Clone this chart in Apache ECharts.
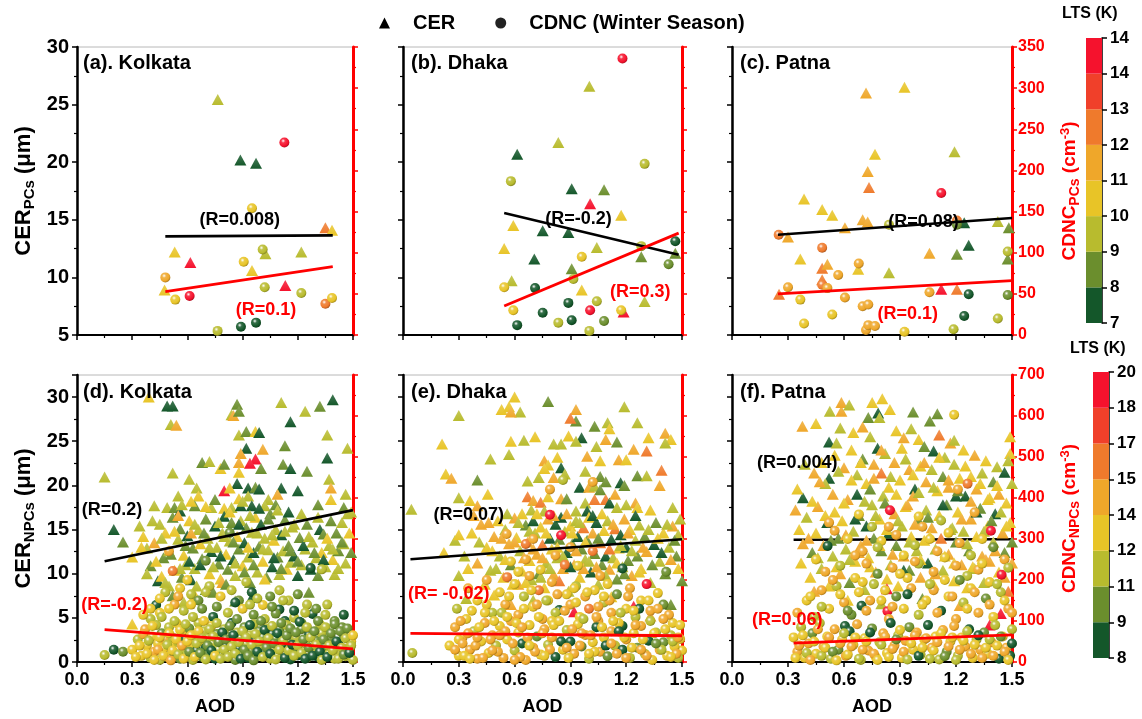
<!DOCTYPE html>
<html><head><meta charset="utf-8">
<script src="https://cdn.jsdelivr.net/npm/echarts@6/dist/echarts.min.js"></script>
<style>html,body{margin:0;padding:0;background:#fff}#c{width:1142px;height:719px}</style>
</head><body><div id="c"></div>
<script>
// LTS colour bins (dark green -> red)
const PAL = ['#14572a','#6b8e2d','#b8bb2e','#e8c427','#efa72a','#ef7a2c','#f0402a','#f5122d'];
const LTS_TOP_LABELS = ['7','8','9','10','11','12','13','14','14'];
const LTS_BOT_LABELS = ['8','9','11','12','14','15','17','18','20'];
const PANEL_TITLES = ['(a). Kolkata','(b). Dhaka','(c). Patna','(d). Kolkata','(e). Dhaka','(f). Patna'];

// [AOD, CER (um), LTS bin]
const aTri = [[0.765,25.45,2],[0.888,20.2,0],[0.973,19.9,0],[0.531,12.2,3],[0.616,11.3,7],[0.951,10.6,3],[1.024,12.05,2],[1.219,12.2,2],[1.35,14.3,5],[1.386,14.1,3],[1.132,9.3,7],[0.476,8.9,3]];
// [AOD, CDNC (cm-3), LTS bin]
const aCir = [[1.127,234,7],[0.951,154,3],[1.009,104,2],[0.906,89,3],[1.02,58,2],[1.219,51,2],[0.48,70,4],[0.534,43,3],[0.612,47.5,7],[1.35,38,5],[1.386,45,3],[0.764,5,2],[0.891,10,0],[0.973,15,0]];
const bTri = [[1.002,26.6,2],[0.835,21.7,2],[0.614,20.7,0],[0.907,17.7,0],[1.081,17.6,1],[1.006,16.4,7],[1.173,15.4,3],[0.593,14.5,3],[0.751,14.05,0],[0.889,13.9,0],[1.042,12.6,2],[0.544,12.5,3],[0.706,11.6,0],[0.907,10.75,1],[1.281,11.8,1],[1.464,12.1,1],[0.584,9.7,2],[0.961,8.9,3],[1.299,7.9,2],[1.186,7.0,7]];
const bCir = [[1.18,336,7],[1.299,208,2],[0.58,187,2],[0.961,95,3],[1.464,114,0],[1.428,86,1],[1.281,108,2],[0.544,58,3],[0.71,57,0],[0.916,68,2],[0.593,30,3],[0.751,27,0],[0.889,39,0],[1.042,41,2],[1.006,30,7],[1.173,30,3],[0.614,12,0],[0.835,15,2],[0.907,18,0],[1.081,17,1],[1.002,5,2]];
const cTri = [[0.718,26.0,4],[0.924,26.5,3],[0.766,20.7,3],[0.727,19.2,4],[0.734,17.8,5],[1.192,20.9,2],[0.386,16.8,3],[0.483,15.9,3],[0.537,15.4,3],[0.70,15.0,4],[0.727,14.8,4],[0.605,14.3,4],[1.244,14.75,0],[1.424,14.85,2],[1.483,14.3,1],[0.30,13.5,4],[0.366,11.6,3],[0.483,10.8,5],[0.511,11.15,4],[0.483,9.8,5],[0.841,10.4,2],[1.058,12.1,4],[1.205,12.0,1],[1.268,12.8,0],[1.477,11.6,1],[0.676,10.7,3],[0.252,8.54,5],[1.121,8.97,7],[1.205,8.97,5]];
const cCir = [[1.121,172.6,7],[0.25,121.8,5],[1.205,139,5],[1.205,134,1],[0.841,134,2],[0.483,106,5],[1.477,101.5,2],[0.679,87,4],[0.569,73,4],[0.483,61,5],[0.30,58,4],[0.511,57,4],[0.366,43,3],[0.605,45.5,4],[1.058,52,4],[1.268,49.5,0],[1.477,48.7,1],[0.70,35,4],[0.73,37,4],[0.537,25,3],[0.386,14,3],[0.718,6,4],[0.73,12,4],[0.766,11,4],[0.924,4,3],[1.244,23,0],[1.424,20,2],[1.187,7,2]];

const dTri = [[0.39,30.0,3],[0.49,29.0,0],[0.52,29.0,0],[0.87,29.2,1],[0.84,28.0,2],[0.85,27.9,4],[0.88,28.4,1],[1.11,29.4,2],[1.24,28.4,2],[1.32,28.95,1],[1.39,29.7,0],
[0.51,26.9,2],[0.54,26.8,4],[0.88,25.7,2],[0.92,26.1,1],[0.97,26.1,3],[0.99,26.0,0],[1.16,27.2,0],[1.36,25.7,2],[1.47,24.2,2],[1.13,24.5,1],[0.92,24.2,0],[1.01,24.1,4],[0.89,23.6,4],[0.97,23.0,7],[0.94,22.5,7],[0.68,22.6,1],[0.72,22.7,2],[0.88,22.6,4],[1.36,23.1,0],[1.12,22.4,1],[1.16,21.9,0],[1.25,21.6,1],[1.00,21.9,1],[0.78,21.9,3],[0.80,22.4,1],[0.88,21.5,3],[0.52,21.4,2],[0.15,20.95,2],[0.61,20.7,2],
[0.80,19.4,7],[0.87,20.2,0],[0.93,19.7,0],[0.97,19.8,1],[0.99,19.6,0],[1.11,19.7,0],[1.20,19.4,0],[1.37,20.7,2],[1.38,19.7,4],[1.38,18.4,3],[1.46,19.0,2],[0.65,19.7,2],[0.66,18.8,3],[0.55,18.8,2],[0.83,19.7,3],[0.88,18.5,3],[0.93,18.8,2],[1.09,19.0,4],[1.04,18.4,2],[1.08,17.8,1],[1.31,17.8,1],[0.42,17.7,2],[0.49,17.5,2],[0.53,17.5,1],[0.56,17.1,0],[0.64,17.7,1],[0.73,17.5,2],[0.80,17.4,3],[0.84,17.5,2],[0.89,17.7,0],[0.95,17.7,0],[1.02,17.7,2],[1.45,17.5,1],
[0.20,15.0,0],[0.25,13.6,1],[0.30,11.9,3],[0.34,15.4,2],[0.36,14.2,3],[0.38,12.9,2],[0.40,10.9,1],[0.42,13.5,4],[0.44,9.2,0],[0.45,15.6,2],[0.47,11.8,1],[0.48,14.6,3],[0.50,8.6,2],[0.50,12.6,2],[0.52,16.4,1],[0.53,10.4,3],[0.55,13.9,2],[0.56,15.1,1],[0.57,9.6,1],[0.58,12.1,3],[0.59,11.0,2],[0.60,14.3,0],[0.61,16.0,3],[0.62,9.3,0],[0.63,12.9,1],[0.64,10.6,2],[0.66,15.0,2],[0.67,13.4,3],[0.68,11.7,1],[0.70,8.2,1],[0.70,16.2,1],[0.71,14.0,2],[0.72,10.0,3],[0.73,12.5,0],[0.74,7.9,1],[0.75,15.4,0],[0.76,13.0,2],[0.77,11.1,1],[0.78,9.4,3],[0.79,14.6,2],[0.80,16.5,0],[0.81,12.2,3],[0.82,10.5,1],[0.83,13.7,2],[0.84,15.8,1],[0.85,11.6,0],[0.86,9.8,2],[0.87,14.2,3],[0.88,12.8,1],[0.89,16.0,2],[0.90,10.9,3],[0.91,13.5,0],[0.92,15.2,1],[0.93,11.9,2],[0.94,9.0,1],[0.95,14.7,2],[0.96,12.4,0],[0.97,16.4,3],[0.98,10.2,2],[0.99,13.1,1],[1.00,15.6,0],[1.01,11.4,3],[1.02,14.0,2],[1.03,9.6,1],[1.04,12.7,2],[1.05,16.8,1],[1.06,10.8,0],[1.07,13.8,3],[1.08,15.0,2],[1.09,11.9,1],[1.10,9.9,2],[1.11,14.4,0],[1.12,12.6,2],[1.13,16.1,1],[1.14,10.5,3],[1.15,13.2,1],[1.16,11.3,2],[1.17,15.3,2],[1.18,12.0,0],[1.20,9.8,0],[1.21,14.1,1],[1.22,11.0,2],[1.24,12.8,2],[1.25,15.6,1],[1.26,7.9,1],[1.27,10.5,0],[1.28,13.6,2],[1.30,11.8,2],[1.31,9.8,1],[1.32,15.0,0],[1.33,12.4,3],[1.34,14.5,1],[1.35,10.8,2],[1.37,13.2,2],[1.38,16.0,1],[1.39,11.6,3],[1.40,9.9,2],[1.41,14.6,1],[1.42,12.6,1],[1.44,15.8,2],[1.45,13.4,2],[1.47,16.8,2],[1.48,14.6,3],[1.49,17.0,2],
[0.46,9.7,3],[0.52,7.5,1],[0.58,6.8,2],[0.64,7.6,3],[0.86,6.9,1],[0.95,7.3,0],[0.30,4.3,3],[0.79,9.0,4],[0.62,14.6,4],[0.55,16.6,4]];
const dTriB = [[0.35,13.0,3],[0.38,10.0,2],[0.41,16.0,2],[0.43,11.4,3],[0.46,14.0,2],[0.48,9.0,2],[0.51,12.2,1],[0.53,14.8,3],[0.56,10.6,2],[0.57,17.8,2],[0.59,13.2,1],[0.61,11.4,0],[0.62,18.2,3],[0.64,15.6,2],[0.65,8.6,2],[0.67,11.0,0],[0.69,14.6,1],[0.70,17.6,3],[0.72,13.0,2],[0.74,10.8,2],[0.75,18.4,1],[0.77,15.8,2],[0.78,12.0,0],[0.80,14.2,2],[0.81,8.8,1],[0.83,17.0,3],[0.85,13.6,1],[0.86,11.2,2],[0.88,15.6,0],[0.90,18.2,2],[0.91,10.2,1],[0.93,13.0,3],[0.94,16.6,2],[0.96,11.0,1],[0.98,14.6,2],[0.99,17.4,0],[1.01,12.8,2],[1.02,9.4,3],[1.04,16.2,1],[1.06,14.4,2],[1.07,11.8,0],[1.09,17.2,2],[1.11,10.6,1],[1.13,14.8,2],[1.15,17.0,0],[1.16,12.6,1],[1.18,15.6,2],[1.20,11.4,1],[1.22,16.8,2],[1.23,13.2,0],[1.26,14.2,2],[1.29,12.4,1],[1.31,16.4,2],[1.34,11.6,0],[1.36,14.0,3],[1.39,12.8,2],[1.42,10.6,2],[1.44,13.6,1],[1.46,11.2,2],[1.49,12.4,1]];
const dCir = [[0.83,315,1],[0.50,270,4],[0.52,222,5],[0.70,247,1],[1.27,229,0],[1.33,226,2],[0.43,139,0],[1.10,128,0],[1.28,117,0],[1.01,139,3],[0.15,17,2],[0.20,30,0],[0.25,25,1],
[0.60,200,3],[0.56,180,3],[0.48,170,2],[0.62,165,2],[0.66,150,1],[0.72,185,2],[0.78,160,3],[0.84,175,2],[0.88,150,1],[0.92,195,2],[0.95,170,0],[0.98,155,2],[1.05,160,1],[1.10,175,2],[1.15,150,2],[1.20,165,1],[1.25,140,2],[1.30,130,1],[1.35,115,2],[1.40,100,1],[0.45,120,3],[0.40,105,2],[0.53,140,4],[0.58,125,2],[0.68,130,1],[0.74,110,0],[0.82,120,2],[0.90,130,3],[0.96,115,1],[1.02,105,2],[1.08,118,1],[1.13,100,0],[1.18,108,2],[1.22,95,1],[1.32,92,2],[1.44,85,1],
[0.30,30,3],[0.33,55,2],[0.35,15,3],[0.37,80,4],[0.38,40,3],[0.40,10,2],[0.41,62,3],[0.42,25,4],[0.43,90,2],[0.44,45,3],[0.45,5,2],[0.46,70,1],[0.47,32,3],[0.48,55,4],[0.49,12,3],[0.50,85,2],[0.51,38,3],[0.52,60,2],[0.53,20,0],[0.54,95,3],[0.55,48,2],[0.56,8,1],[0.57,72,3],[0.58,30,2],[0.59,55,0],[0.60,18,2],[0.61,82,1],[0.62,42,3],[0.63,5,2],[0.64,66,2],[0.65,28,0],[0.66,95,2],[0.67,50,3],[0.68,12,1],[0.69,75,2],[0.70,35,0],[0.71,58,2],[0.72,20,1],[0.73,88,3],[0.74,45,2],[0.75,8,0],[0.76,68,1],[0.77,30,2],[0.78,52,3],[0.79,15,1],[0.80,80,2],[0.81,40,0],[0.82,62,1],[0.83,22,2],[0.84,95,0],[0.85,50,2],[0.86,5,1],[0.87,72,2],[0.88,33,0],[0.89,58,1],[0.90,18,2],[0.91,85,1],[0.92,44,2],[0.93,10,0],[0.94,65,2],[0.95,28,1],[0.96,92,2],[0.97,52,0],[0.98,15,2],[0.99,75,1],[1.00,38,2],[1.01,60,1],[1.02,22,0],[1.03,82,2],[1.04,46,1],[1.05,8,2],[1.06,68,0],[1.07,32,2],[1.08,55,1],[1.09,14,2],[1.10,78,1],[1.11,42,0],[1.12,62,2],[1.13,20,1],[1.14,90,2],[1.15,50,1],[1.16,6,0],[1.17,72,2],[1.18,35,1],[1.19,58,2],[1.20,16,0],[1.22,80,1],[1.24,45,2],[1.25,10,1],[1.26,65,0],[1.28,28,2],[1.30,52,1],[1.31,12,0],[1.33,70,2],[1.35,38,1],[1.37,20,2],[1.38,58,1],[1.40,8,2],[1.42,45,0],[1.43,25,2],[1.45,62,1],[1.46,14,2],[1.48,35,2],[1.49,50,3],[1.50,5,2]];
const dCirB = [[0.32,12,3],[0.34,40,3],[0.36,68,4],[0.38,20,3],[0.39,52,2],[0.41,88,3],[0.42,5,3],[0.44,30,4],[0.45,60,3],[0.46,110,2],[0.47,15,3],[0.49,42,2],[0.50,70,3],[0.51,4,4],[0.52,28,3],[0.53,100,2],[0.54,55,3],[0.55,18,2],[0.56,78,3],[0.57,40,4],[0.58,8,3],[0.59,92,2],[0.60,50,3],[0.61,25,1],[0.62,65,3],[0.63,110,2],[0.64,12,3],[0.65,45,2],[0.66,75,3],[0.67,22,1],[0.68,58,2],[0.69,100,3],[0.70,6,2],[0.71,40,1],[0.72,80,2],[0.73,28,0],[0.74,62,2],[0.75,15,3],[0.76,95,2],[0.77,48,1],[0.78,8,2],[0.79,72,0],[0.80,30,2],[0.81,55,1],[0.82,12,2],[0.83,88,1],[0.84,38,2],[0.85,65,0],[0.86,20,2],[0.87,105,1],[0.88,48,2],[0.89,8,0],[0.90,75,2],[0.91,30,1],[0.92,60,2],[0.93,15,1],[0.94,90,0],[0.95,42,2],[0.96,4,1],[0.97,68,2],[0.98,25,0],[0.99,50,2],[1.00,100,1],[1.01,12,2],[1.02,78,0],[1.03,35,1],[1.04,58,2],[1.05,20,0],[1.06,88,2],[1.07,45,1],[1.08,6,2],[1.09,70,0],[1.10,30,2],[1.11,95,1],[1.12,52,2],[1.13,10,0],[1.14,65,1],[1.15,28,2],[1.16,82,1],[1.17,42,0],[1.18,15,2],[1.19,72,1],[1.20,40,2],[1.21,98,0],[1.22,22,2],[1.23,55,1],[1.24,8,0],[1.25,85,2],[1.26,35,1],[1.27,60,2],[1.28,15,0],[1.29,75,1],[1.30,42,2],[1.31,100,1],[1.32,25,0],[1.33,5,2],[1.34,55,1],[1.35,85,2],[1.36,12,0],[1.37,40,2],[1.38,70,1],[1.39,28,2],[1.40,92,1],[1.41,50,0],[1.42,8,2],[1.43,75,1],[1.44,35,2],[1.45,18,1],[1.46,58,2],[1.47,82,1],[1.48,22,0],[1.49,40,2],[1.50,65,3],
[0.45,155,3],[0.50,130,3],[0.55,160,4],[0.62,140,3],[0.70,170,2],[0.76,135,1],[0.86,145,0],[0.94,140,2],[1.06,135,1],[1.12,150,2],[1.18,125,0],[1.24,120,2],[1.36,140,2],[1.45,115,0],[0.40,130,3],[0.36,115,3]];

const eTri = [[0.045,17.3,2],[0.21,24.7,3],[0.30,27.9,2],[0.53,28.6,3],[0.57,28.9,3],[0.60,30.0,3],[0.63,28.3,2],[0.58,28.3,4],[0.47,23.0,2],[0.57,23.5,2],[0.58,25.0,3],[0.65,25.1,2],[0.71,25.5,3],[0.23,21.3,3],[0.26,20.8,4],[0.40,20.6,1],[0.456,19.0,3],[0.30,18.6,2],[0.36,18.3,3],[0.40,17.7,4],
[0.78,29.5,1],[0.93,28.6,4],[0.93,27.3,1],[0.90,27.6,5],[1.03,26.7,1],[1.10,27.1,2],[1.11,26.4,3],[1.19,28.9,2],[1.26,27.1,2],[1.41,25.9,4],[1.44,25.2,3],[1.41,24.8,2],[1.32,25.4,3],[1.15,24.9,1],[1.09,25.2,4],[0.96,25.4,0],[0.93,25.0,2],[0.89,25.6,3],[0.81,24.7,2],[0.85,24.7,2],[1.04,24.4,2],[1.24,24.1,4],[1.31,23.9,5],[0.99,23.3,4],[1.06,22.8,3],[1.16,22.9,4],[1.20,22.9,3],[0.83,23.2,3],[0.76,22.8,4],[0.78,22.3,3],[0.76,21.9,3],[0.85,22.0,0],[0.87,21.3,2],[0.98,21.6,2],[0.81,20.9,4],[0.73,20.9,2],[0.67,20.5,2],[1.06,21.0,1],[1.09,20.4,1],[1.26,21.1,1],[1.31,21.1,2],[1.39,21.7,5],[1.17,20.3,0],[1.19,20.0,1],[1.38,20.0,4],[0.95,19.8,0],[1.00,19.8,4],[1.03,19.9,2],[1.06,19.5,1],[0.67,18.7,5],[0.70,18.3,4],[0.74,18.1,5],[0.78,18.7,3],[0.85,18.5,4],[0.88,18.5,1],[0.98,18.0,2],[1.03,18.4,5],[1.09,18.4,5],[1.11,18.0,0],[1.14,19.0,4],[1.25,18.0,4],[1.15,17.5,2],[1.20,17.8,2],[1.26,17.5,3],[1.33,17.2,3],[1.45,17.5,2],[0.99,17.1,0],[0.93,17.1,2],[0.76,17.1,2],[0.69,17.2,2],[0.64,16.8,3],
[0.22,12.4,3],[0.28,13.8,2],[0.33,12.0,2],[0.37,14.6,3],[0.40,11.2,4],[0.42,15.6,4],[0.45,13.0,3],[0.47,10.4,2],[0.49,14.2,4],[0.51,16.0,3],[0.52,12.0,2],[0.54,9.6,3],[0.55,15.0,2],[0.57,13.4,4],[0.58,11.0,1],[0.60,16.3,4],[0.61,14.1,3],[0.62,8.8,4],[0.63,12.6,2],[0.64,10.3,3],[0.66,15.5,1],[0.67,13.6,4],[0.68,11.5,3],[0.69,9.3,2],[0.70,16.0,0],[0.71,14.6,2],[0.72,12.2,4],[0.73,10.0,1],[0.74,15.3,3],[0.75,13.3,5],[0.76,8.4,3],[0.77,11.2,2],[0.78,16.2,4],[0.79,14.0,0],[0.80,12.8,3],[0.81,9.9,4],[0.82,15.6,0],[0.83,11.8,2],[0.84,13.9,1],[0.85,16.4,0],[0.86,10.6,4],[0.87,14.8,2],[0.88,12.4,0],[0.89,8.0,2],[0.90,15.4,3],[0.91,13.4,1],[0.92,11.0,4],[0.93,16.0,2],[0.94,14.2,0],[0.95,9.6,3],[0.96,12.8,1],[0.97,15.2,5],[0.98,11.6,2],[0.99,13.8,1],[1.00,16.4,3],[1.01,10.2,0],[1.02,14.6,4],[1.03,12.3,1],[1.04,15.8,0],[1.05,8.8,2],[1.06,13.5,5],[1.07,11.0,1],[1.08,14.9,3],[1.09,12.0,0],[1.10,16.0,2],[1.11,10.5,4],[1.12,13.9,0],[1.13,11.8,2],[1.14,15.1,5],[1.15,9.4,1],[1.16,12.9,3],[1.17,14.4,0],[1.18,10.8,2],[1.19,16.2,4],[1.20,13.0,0],[1.21,11.5,1],[1.22,15.0,3],[1.23,9.8,4],[1.24,6.3,7],[1.25,13.8,2],[1.26,12.0,1],[1.27,15.5,2],[1.28,10.6,3],[1.30,14.2,1],[1.31,12.5,4],[1.33,9.0,2],[1.33,5.2,4],[1.35,13.3,0],[1.36,15.8,1],[1.38,11.4,2],[1.40,14.6,3],[1.41,10.0,1],[1.43,13.0,2],[1.44,6.5,1],[1.45,15.4,4],[1.47,12.0,1],[1.49,16.2,2],[1.5,9.2,1],[1.48,14.4,2],[0.92,5.7,7],[0.34,7.2,2],[0.30,9.8,2],[0.49,7.6,3],[0.58,6.5,4],[0.70,7.0,2],[1.12,7.4,3]];
const eTriB = [[0.30,14.4,3],[0.35,10.6,3],[0.38,16.6,4],[0.41,13.6,2],[0.44,8.8,3],[0.46,15.8,4],[0.48,12.6,3],[0.50,10.6,2],[0.53,14.0,4],[0.55,11.6,3],[0.56,16.8,2],[0.59,8.8,3],[0.60,13.6,4],[0.62,15.8,2],[0.65,11.8,4],[0.66,9.0,3],[0.68,14.8,2],[0.70,12.8,4],[0.72,16.8,3],[0.74,9.6,2],[0.75,11.8,4],[0.77,14.6,3],[0.79,10.6,2],[0.81,16.6,4],[0.83,13.0,3],[0.84,9.2,5],[0.86,12.0,2],[0.88,16.8,4],[0.90,10.8,0],[0.91,14.6,3],[0.93,12.6,4],[0.95,15.8,2],[0.97,10.6,4],[0.98,13.6,3],[1.00,11.4,2],[1.02,16.6,0],[1.04,10.8,4],[1.05,14.0,1],[1.07,16.8,3],[1.09,9.8,2],[1.11,12.8,5],[1.13,15.6,4],[1.15,11.2,3],[1.17,13.2,2],[1.19,10.0,1],[1.21,14.6,4],[1.23,12.6,2],[1.25,16.6,0],[1.27,10.2,3],[1.29,13.0,4],[1.32,15.0,2],[1.34,11.0,1],[1.37,14.0,3],[1.39,12.4,0],[1.42,15.6,2],[1.44,11.6,4],[1.46,13.8,1],[1.48,10.6,3]];
const eCir = [[0.79,359,7],[0.85,309,7],[1.31,190,7],[1.02,439,4],[0.79,421,4],[0.86,444,2],[0.557,312,4],[0.66,288,5],[0.87,237,5],[0.56,207,5],[1.18,228,0],[1.415,220,1],[1.37,168,3],[0.29,130,2],[0.05,22,2],[1.5,28,3],[1.18,88,0],[0.84,127,0],
[0.35,180,4],[0.40,150,3],[0.45,200,4],[0.48,120,2],[0.52,170,3],[0.55,140,4],[0.60,190,3],[0.62,115,4],[0.65,160,2],[0.68,210,4],[0.70,135,3],[0.73,175,5],[0.75,105,4],[0.78,150,3],[0.80,195,4],[0.82,120,2],[0.88,165,3],[0.90,140,4],[0.93,185,2],[0.95,110,3],[0.98,160,4],[1.00,130,5],[1.03,175,3],[1.05,100,4],[1.08,145,2],[1.10,190,3],[1.12,120,4],[1.15,165,1],[1.20,130,3],[1.22,180,4],[1.25,110,2],[1.28,150,3],[1.33,125,4],[1.40,140,1],[1.45,95,3],
[0.25,40,3],[0.28,85,4],[0.30,15,3],[0.32,60,4],[0.34,105,3],[0.36,30,4],[0.38,75,2],[0.40,8,4],[0.42,50,3],[0.44,95,4],[0.46,22,3],[0.48,65,4],[0.50,40,2],[0.52,88,3],[0.54,10,4],[0.56,55,3],[0.58,100,4],[0.60,28,2],[0.62,72,3],[0.64,45,0],[0.66,5,4],[0.68,90,3],[0.70,35,4],[0.72,62,1],[0.74,18,3],[0.76,80,4],[0.78,42,2],[0.80,100,3],[0.82,12,0],[0.84,58,4],[0.86,30,3],[0.88,78,2],[0.90,50,0],[0.92,20,4],[0.94,92,3],[0.96,38,1],[0.98,66,4],[1.00,8,2],[1.02,48,3],[1.04,85,0],[1.06,25,4],[1.08,60,3],[1.10,14,1],[1.12,75,4],[1.14,40,2],[1.16,95,3],[1.18,30,0],[1.20,55,4],[1.22,10,2],[1.24,70,3],[1.26,35,1],[1.28,88,4],[1.30,20,2],[1.32,52,0],[1.34,5,3],[1.36,72,2],[1.38,30,4],[1.40,48,1],[1.42,15,3],[1.44,65,2],[1.46,38,3],[1.48,10,2],[1.49,56,3]];
const eCirB = [[0.28,30,4],[0.30,55,3],[0.31,100,4],[0.33,15,3],[0.35,70,4],[0.37,125,3],[0.39,40,4],[0.41,85,3],[0.43,10,4],[0.45,140,3],[0.47,55,4],[0.49,100,3],[0.51,25,4],[0.53,120,2],[0.55,75,4],[0.57,160,3],[0.59,45,4],[0.61,95,3],[0.63,12,4],[0.65,130,3],[0.67,60,4],[0.69,175,3],[0.71,25,4],[0.73,110,3],[0.75,70,4],[0.77,150,2],[0.79,30,4],[0.81,90,3],[0.83,165,4],[0.85,50,0],[0.87,125,4],[0.89,10,3],[0.91,80,4],[0.93,145,3],[0.95,40,4],[0.97,105,2],[0.99,170,3],[1.01,65,4],[1.03,25,3],[1.05,135,4],[1.07,85,3],[1.09,40,0],[1.11,150,4],[1.13,100,3],[1.15,20,4],[1.17,120,2],[1.19,60,3],[1.21,160,4],[1.23,35,3],[1.25,90,4],[1.27,130,0],[1.29,55,3],[1.31,15,4],[1.33,100,2],[1.35,70,3],[1.37,130,4],[1.39,30,2],[1.41,80,3],[1.43,115,4],[1.45,50,2],[1.47,20,4],[1.49,90,3],
[0.32,45,4],[0.36,8,3],[0.40,60,4],[0.44,120,3],[0.48,28,4],[0.52,65,4],[0.56,110,3],[0.60,5,4],[0.64,85,4],[0.68,40,3],[0.72,140,4],[0.76,15,3],[0.80,60,4],[0.84,100,3],[0.88,35,4],[0.92,180,3],[0.96,70,4],[1.00,20,3],[1.04,110,4],[1.08,160,3],[1.12,45,4],[1.16,75,0],[1.20,10,4],[1.24,125,3],[1.28,30,4],[1.32,150,3],[1.36,45,1],[1.40,105,4],[1.44,12,3],[1.48,60,4],
[0.66,250,4],[0.74,225,3],[0.82,260,4],[0.94,235,3],[1.06,210,4],[0.58,245,3],[0.90,280,4],[1.02,270,5],[0.70,300,4],[0.62,220,3]];

const fTri = [[0.377,26.7,4],[0.45,27.0,3],[0.524,28.4,2],[0.586,28.4,4],[0.586,29.4,4],[0.628,29.1,2],[0.751,29.4,3],[0.805,29.8,3],[0.783,28.2,0],[0.846,28.6,3],[0.73,27.7,1],[0.79,27.7,2],[0.97,28.3,1],[1.06,27.3,1],[1.10,28.1,1],[1.11,25.7,5],[1.17,24.8,4],[1.19,25.1,2],[1.49,25.5,3],[1.49,23.6,3],[0.52,24.9,0],[0.56,24.8,2],[0.78,24.2,0],
[0.58,26.5,2],[0.65,26.0,3],[0.70,26.6,4],[0.74,25.5,2],[0.88,26.2,3],[0.92,25.4,4],[0.96,26.4,2],[1.00,25.2,3],[1.03,24.4,1],[1.08,23.9,0],[1.14,23.2,2],[1.24,24.0,3],[1.30,23.4,4],[1.36,22.8,3],[1.42,22.1,2],[1.46,21.5,0],[0.44,21.4,4],[0.48,22.6,3],[0.52,20.8,0],[0.55,23.4,3],[0.60,22.0,4],[0.64,24.0,3],[0.67,21.2,2],[0.70,23.0,1],[0.72,20.2,3],[0.76,22.4,4],[0.80,21.4,5],[0.82,23.6,2],[0.84,19.8,3],[0.87,22.6,4],[0.90,20.6,3],[0.93,23.0,2],[0.95,21.8,4],[0.98,19.6,0],[1.01,22.2,3],[1.04,20.4,4],[1.07,21.8,2],[1.10,19.4,3],[1.13,21.0,1],[1.16,19.8,4],[1.19,22.4,2],[1.22,20.8,3],[1.25,18.8,0],[1.28,21.0,3],[1.31,19.6,4],[1.34,21.4,2],[1.37,18.4,3],[1.40,20.4,1],[1.43,19.0,4],[1.47,18.0,3],[1.50,20.2,2],
[0.34,17.2,4],[0.36,15.0,3],[0.37,11.2,3],[0.38,13.4,4],[0.40,16.4,2],[0.42,9.6,3],[0.43,12.4,1],[0.45,14.6,3],[0.46,17.6,4],[0.48,10.6,2],[0.49,13.2,4],[0.51,15.8,0],[0.52,8.6,3],[0.54,12.0,2],[0.55,17.0,3],[0.57,14.0,1],[0.58,10.0,4],[0.59,16.0,3],[0.61,12.8,2],[0.62,18.4,4],[0.63,9.0,1],[0.65,14.8,2],[0.66,11.4,3],[0.68,16.6,1],[0.69,13.2,4],[0.71,8.2,2],[0.72,15.4,0],[0.73,11.8,3],[0.75,17.8,2],[0.76,14.0,1],[0.77,10.2,4],[0.79,16.2,3],[0.80,12.6,1],[0.81,18.8,2],[0.83,9.4,3],[0.84,14.6,0],[0.85,11.0,2],[0.87,16.8,4],[0.88,13.2,1],[0.89,8.6,3],[0.91,15.4,2],[0.92,12.0,4],[0.93,17.6,3],[0.95,10.4,1],[0.96,14.2,3],[0.97,18.8,4],[0.99,12.6,2],[1.00,16.0,1],[1.01,9.6,4],[1.03,13.8,3],[1.04,17.2,2],[1.05,11.2,0],[1.07,15.2,4],[1.08,8.8,3],[1.09,12.8,2],[1.11,16.6,3],[1.12,14.0,5],[1.13,10.4,2],[1.15,17.8,1],[1.16,12.2,4],[1.17,15.0,2],[1.19,9.2,3],[1.20,13.6,1],[1.21,17.0,3],[1.23,11.0,4],[1.24,14.8,2],[1.26,8.4,3],[1.27,12.6,1],[1.28,16.2,4],[1.30,10.6,2],[1.31,14.2,3],[1.33,17.4,1],[1.34,12.0,4],[1.35,9.0,2],[1.37,15.4,3],[1.38,11.4,4],[1.40,13.6,2],[1.41,16.8,0],[1.43,10.2,3],[1.44,5.5,7],[1.45,14.6,4],[1.46,12.4,1],[1.48,8.0,5],[1.49,15.8,3],[1.50,11.2,4],[1.38,4.2,7],[0.83,8.3,7],[0.38,18.6,0],[0.50,20.2,2],[0.67,19.0,0],[0.74,19.6,1],[1.20,18.8,0],[0.44,8.0,4],[0.62,7.0,3],[0.80,6.6,2],[1.02,7.2,1],[1.22,6.4,4]];
const fTriB = [[0.35,19.6,3],[0.39,22.4,2],[0.41,14.0,4],[0.43,18.2,3],[0.46,11.8,2],[0.47,20.4,4],[0.50,16.6,3],[0.53,13.8,1],[0.54,19.0,4],[0.56,10.8,3],[0.57,21.6,2],[0.60,18.0,3],[0.61,14.4,4],[0.63,11.6,2],[0.64,20.6,3],[0.66,16.2,0],[0.68,12.4,4],[0.69,22.6,3],[0.71,18.2,2],[0.72,13.8,4],[0.74,10.8,3],[0.76,20.8,4],[0.77,16.6,2],[0.79,13.2,3],[0.80,24.0,4],[0.82,18.0,1],[0.83,15.0,3],[0.85,21.0,2],[0.86,12.2,4],[0.88,19.0,3],[0.89,16.0,2],[0.91,24.2,3],[0.92,10.4,0],[0.94,17.8,4],[0.95,13.6,2],[0.97,21.2,3],[0.98,15.6,4],[1.00,19.2,2],[1.01,11.6,3],[1.03,22.6,4],[1.05,16.4,1],[1.06,14.2,3],[1.08,19.8,2],[1.09,10.0,4],[1.11,23.2,3],[1.13,17.8,0],[1.14,12.0,3],[1.16,20.6,4],[1.18,15.2,2],[1.19,11.2,3],[1.21,19.4,1],[1.23,16.2,4],[1.25,22.2,3],[1.26,13.4,2],[1.28,18.2,4],[1.29,10.8,3],[1.31,17.0,0],[1.33,20.2,3],[1.35,14.8,2],[1.36,11.6,4],[1.38,18.6,3],[1.39,16.0,1],[1.41,12.6,4],[1.42,20.0,3],[1.44,17.0,2],[1.46,9.6,4],[1.47,15.4,3],[1.48,22.8,2],[1.50,13.6,1]];
const fCir = [[1.19,603,3],[0.846,370,7],[1.262,435,5],[1.21,421,4],[1.387,320,7],[1.444,213,7],[0.833,124,7],[0.512,283,0],[0.694,137,0],[0.605,88,0],
[0.45,250,3],[0.55,320,4],[0.62,300,3],[0.70,270,4],[0.75,330,2],[0.80,295,3],[0.88,310,4],[0.92,260,3],[0.98,285,2],[1.02,330,4],[1.06,300,3],[1.10,270,4],[1.16,315,3],[1.22,290,4],[1.28,260,2],[1.34,300,3],[1.40,280,1],[1.46,250,4],[0.50,220,4],[0.58,235,2],[0.66,205,3],[0.72,240,4],[0.78,215,1],[0.86,230,4],[0.94,205,3],[1.00,240,2],[1.08,220,4],[1.14,200,3],[1.20,235,4],[1.26,210,2],[1.32,225,4],[1.38,195,3],[1.48,230,2],
[0.40,150,3],[0.44,110,2],[0.48,175,4],[0.52,130,3],[0.56,185,2],[0.60,145,4],[0.64,115,1],[0.68,170,3],[0.72,125,4],[0.76,190,2],[0.80,150,3],[0.84,105,4],[0.88,160,1],[0.92,130,3],[0.96,180,4],[1.00,115,2],[1.04,150,3],[1.08,175,4],[1.12,125,0],[1.16,160,3],[1.20,105,4],[1.24,145,2],[1.28,180,3],[1.32,120,4],[1.36,155,1],[1.40,110,3],[1.44,170,2],[1.48,130,4],
[0.33,60,3],[0.35,25,4],[0.37,85,2],[0.39,10,3],[0.41,45,4],[0.43,70,1],[0.45,20,3],[0.47,95,2],[0.49,38,4],[0.51,62,3],[0.53,8,2],[0.55,80,4],[0.57,30,1],[0.59,55,3],[0.61,15,4],[0.63,75,0],[0.65,42,3],[0.67,92,4],[0.69,5,2],[0.71,58,3],[0.73,28,4],[0.75,82,1],[0.77,12,3],[0.79,48,2],[0.81,70,4],[0.83,22,3],[0.85,95,0],[0.87,40,4],[0.89,65,2],[0.91,10,3],[0.93,52,4],[0.95,85,1],[0.97,30,3],[0.99,72,4],[1.01,18,2],[1.03,55,3],[1.05,90,0],[1.07,35,4],[1.09,62,3],[1.11,6,2],[1.13,78,4],[1.15,25,1],[1.17,50,3],[1.19,88,4],[1.21,15,2],[1.23,60,3],[1.25,38,4],[1.27,80,0],[1.29,10,3],[1.31,55,2],[1.33,30,4],[1.35,72,1],[1.37,20,3],[1.39,48,4],[1.41,90,2],[1.43,8,0],[1.45,62,3],[1.47,35,4],[1.49,15,0],[1.50,80,2]];
const fCirB = [[0.34,10,3],[0.36,40,4],[0.38,65,3],[0.40,22,2],[0.42,5,4],[0.44,50,3],[0.46,80,4],[0.48,15,2],[0.50,35,3],[0.52,60,4],[0.54,25,1],[0.56,4,3],[0.58,45,4],[0.60,70,2],[0.62,18,3],[0.64,38,4],[0.66,60,3],[0.68,8,2],[0.70,30,4],[0.72,50,3],[0.74,72,0],[0.76,20,4],[0.78,5,3],[0.80,42,2],[0.82,62,4],[0.84,12,3],[0.86,32,4],[0.88,55,1],[0.90,78,3],[0.92,25,4],[0.94,6,2],[0.96,45,3],[0.98,65,4],[1.00,15,0],[1.02,35,3],[1.04,58,4],[1.06,8,2],[1.08,28,3],[1.10,48,4],[1.12,70,3],[1.14,14,1],[1.16,38,4],[1.18,60,3],[1.20,5,2],[1.22,30,4],[1.24,52,3],[1.26,75,2],[1.28,20,4],[1.30,42,3],[1.32,65,0],[1.34,10,4],[1.36,35,3],[1.38,55,2],[1.40,15,4],[1.42,40,3],[1.44,62,1],[1.46,25,4],[1.48,5,3],[1.50,45,0],
[0.35,120,4],[0.42,160,3],[0.48,135,2],[0.54,200,4],[0.58,165,3],[0.62,125,1],[0.66,260,4],[0.70,195,3],[0.74,150,4],[0.78,280,2],[0.82,175,3],[0.86,135,4],[0.90,215,3],[0.94,165,0],[0.98,245,4],[1.02,140,3],[1.06,190,2],[1.10,120,4],[1.14,255,3],[1.18,160,4],[1.22,200,1],[1.26,130,3],[1.30,170,4],[1.34,240,3],[1.38,140,4],[1.42,190,2],[1.46,150,3],[1.50,120,4],[0.52,340,4],[0.68,360,3],[0.84,330,4],[1.00,355,3],[1.12,345,2],[1.30,365,4]];

// regression lines: [panel, 'k' (CER, left axis) | 'r' (CDNC, right axis), endpoints]
const LINES = [
 [0,'k',[[0.48,13.56],[1.39,13.65]]],[0,'r',[[0.48,52.8],[1.39,83.2]]],
 [1,'k',[[0.544,15.59],[1.482,11.96]]],[1,'r',[[0.544,35.3],[1.482,123.8]]],
 [2,'k',[[0.246,13.7],[1.5,15.15]]],[2,'r',[[0.246,50],[1.5,66]]],
 [3,'k',[[0.15,11.4],[1.5,17.2]]],[3,'r',[[0.15,79],[1.5,32]]],
 [4,'k',[[0.04,11.63],[1.5,13.9]]],[4,'r',[[0.04,70],[1.5,64]]],
 [5,'k',[[0.33,13.85],[1.5,13.9]]],[5,'r',[[0.33,46],[1.5,66]]]];
// correlation labels: text, [panel, AOD, CER-axis position]
const ANN_TEXT = ['(R=0.008)','(R=0.1)','(R=-0.2)','(R=0.3)','(R=0.08)','(R=0.1)','(R=0.2)','(R=-0.2)','(R=0.07)','(R= -0.02)','(R=0.004)','(R=0.06)'];
const ANN_POS = [[0,0.884,14.96],[0,1.027,7.2],[1,0.943,15.1],[1,1.275,8.77],[2,1.026,14.8],[2,0.942,6.8],[3,0.19,17.2],[3,0.204,6.5],[4,0.354,16.6],[4,0.246,7.65],[5,0.35,22.5],[5,0.296,4.75]];

const TRI = [aTri,bTri,cTri,dTri.concat(dTriB),eTri.concat(eTriB),fTri.concat(fTriB)];
const CIR = [aCir,bCir,cCir,dCir.concat(dCirB),eCir.concat(eCirB),fCir.concat(fCirB)];

const FONT = '"Liberation Sans", Arial, Helvetica, sans-serif';
function shade(hex,f){
  const n=parseInt(hex.slice(1),16);let r=n>>16,g=(n>>8)&255,b=n&255;
  if(f>1){r=r+(255-r)*(f-1);g=g+(255-g)*(f-1);b=b+(255-b)*(f-1);} else {r*=f;g*=f;b*=f;}
  return 'rgb('+Math.round(r)+','+Math.round(g)+','+Math.round(b)+')';
}
function triItem(d){const c=PAL[d[2]];return {value:[d[0],d[1]],itemStyle:{opacity:1,color:{type:'linear',x:0,y:0,x2:0,y2:1,colorStops:[{offset:0,color:shade(c,1.2)},{offset:1,color:c}]}}};}
function cirItem(d){const c=PAL[d[2]];return {value:[d[0],d[1]],itemStyle:{opacity:1,color:{type:'radial',x:0.38,y:0.34,r:0.72,colorStops:[{offset:0,color:'#ffffff'},{offset:0.28,color:shade(c,1.15)},{offset:0.7,color:c},{offset:1,color:shade(c,0.65)}]}}};}

const GRIDS = [
 {left:77,top:47,width:276,height:288},{left:403,top:47,width:279,height:288},{left:732,top:47,width:280,height:288},
 {left:77,top:375,width:276,height:287},{left:403,top:375,width:279,height:287},{left:732,top:375,width:280,height:287}];

const grid=[], xAxis=[], yAxis=[], series=[], title=[];
GRIDS.forEach((g,i)=>{
  grid.push(Object.assign({show:true,borderColor:'#b8b8b8',borderWidth:1,backgroundColor:'transparent'},g));
  const bottom = i>=3;
  xAxis.push({gridIndex:i,type:'value',min:0,max:1.5,interval:0.3,
    axisLine:{show:true,onZero:false,lineStyle:{color:'#000',width:2}},
    axisTick:{show:true,length:5,lineStyle:{width:1.5,color:'#000'}},
    minorTick:{show:true,splitNumber:2,length:3,lineStyle:{width:1.2,color:'#000'}},
    splitLine:{show:false},
    axisLabel:{show:bottom,margin:9,color:'#000',fontWeight:'bold',fontSize:18,fontFamily:FONT,formatter:v=>v.toFixed(1)},
    name:bottom?'AOD':'',nameLocation:'middle',nameGap:36,
    nameTextStyle:{color:'#000',fontWeight:'bold',fontSize:18,fontFamily:FONT}});
  const showL = (i===0||i===3);
  yAxis.push({gridIndex:i,type:'value',position:'left',
    min:bottom?0:5,max:bottom?32.5:30,interval:5,
    axisLine:{show:true,onZero:false,lineStyle:{color:'#000',width:2.5}},
    axisTick:{show:true,length:5,lineStyle:{width:1.5,color:'#000'}},
    minorTick:{show:true,splitNumber:2,length:3,lineStyle:{width:1.2,color:'#000'}},
    splitLine:{show:false},
    axisLabel:{show:showL,showMaxLabel:!bottom,margin:8,color:'#000',fontWeight:'bold',fontSize:20,fontFamily:FONT},
    name:showL?(bottom?'{b|CER}{s|NPCs}{b| (μm)}':'{b|CER}{s|PCs}{b| (μm)}'):'',
    nameLocation:'middle',nameGap:40,
    nameTextStyle:{color:'#000',rich:{b:{fontSize:22,fontWeight:'bold',fontFamily:FONT,color:'#000'},s:{fontSize:15,fontWeight:'bold',fontFamily:FONT,color:'#000',padding:[11,0,0,0]}}}});
  const showR = (i===2||i===5);
  yAxis.push({gridIndex:i,type:'value',position:'right',
    min:0,max:bottom?700:350,interval:bottom?100:50,
    axisLine:{show:true,onZero:false,lineStyle:{color:'#ff0000',width:3}},
    axisTick:{show:true,length:5,lineStyle:{width:1.5,color:'#ff0000'}},
    minorTick:{show:true,splitNumber:2,length:3,lineStyle:{width:1.2,color:'#ff0000'}},
    splitLine:{show:false},
    axisLabel:{show:showR,margin:6,color:'#ff0000',fontWeight:'bold',fontSize:16,fontFamily:FONT},
    name:showR?(bottom?'{b|CDNC}{s|NPCs}{b| (cm}{p|-3}{b|)}':'{b|CDNC}{s|PCs}{b| (cm}{p|-3}{b|)}'):'',
    nameLocation:'middle',nameGap:46,
    nameTextStyle:{color:'#ff0000',rich:{b:{fontSize:19,fontWeight:'bold',fontFamily:FONT,color:'#ff0000'},s:{fontSize:14,fontWeight:'bold',fontFamily:FONT,color:'#ff0000',padding:[10,0,0,0]},p:{fontSize:13,fontWeight:'bold',fontFamily:FONT,color:'#ff0000',padding:[0,0,10,0]}}}});
  title.push({text:PANEL_TITLES[i],left:g.left+(i%3===0?6:8),top:g.top+(bottom?7:6),padding:0,
    textStyle:{fontSize:20,fontWeight:'bold',fontFamily:FONT,color:'#000'}});
});

TRI.forEach((arr,i)=>series.push({type:'scatter',name:'CER',xAxisIndex:i,yAxisIndex:2*i,symbol:'triangle',symbolSize:[12,11],itemStyle:{opacity:1},data:arr.map(triItem),silent:true,z:2}));
CIR.forEach((arr,i)=>series.push({type:'scatter',name:'CDNC (Winter Season)',xAxisIndex:i,yAxisIndex:2*i+1,symbol:'circle',symbolSize:10,itemStyle:{opacity:1},data:arr.map(cirItem),silent:true,z:2}));
LINES.forEach(l=>{
  const p=l[0], red=l[1]==='r';
  series.push({type:'line',xAxisIndex:p,yAxisIndex:red?2*p+1:2*p,data:l[2],symbol:'none',silent:true,
    lineStyle:{color:red?'#ff0000':'#000',width:red?2.8:2.6,opacity:1},z:(p===5&&!red)?1:3});
});
ANN_POS.forEach((a,k)=>{
  const p=a[0];
  series.push({type:'scatter',xAxisIndex:p,yAxisIndex:2*p,symbolSize:1,itemStyle:{color:'#fff',opacity:0},silent:true,z:5,
    data:[{value:[a[1],a[2]],name:ANN_TEXT[k]}],
    label:{show:true,position:'inside',formatter:'{b}',opacity:1,color:(k%2===0)?'#000':'#ff0000',textBorderWidth:0,fontWeight:'bold',fontSize:18,fontFamily:FONT}});
});

// colour bars
const CB = [{left:1086,top:38,width:16,height:285,labels:LTS_TOP_LABELS},{left:1093,top:372,width:16,height:286,labels:LTS_BOT_LABELS}];
CB.forEach((cb,j)=>{
  const gi = 6+j;
  grid.push({left:cb.left,top:cb.top,width:cb.width,height:cb.height,show:false});
  xAxis.push({gridIndex:gi,type:'category',data:[''],show:false});
  yAxis.push({gridIndex:gi,type:'value',position:'right',min:0,max:8,interval:1,
    axisLine:{show:true,lineStyle:{color:'#000',width:1.5}},
    axisTick:{show:true,length:5,lineStyle:{color:'#000',width:1.5}},
    splitLine:{show:false},
    axisLabel:{show:true,margin:8,color:'#000',fontWeight:'bold',fontSize:17,fontFamily:FONT,formatter:(v)=>cb.labels[Math.round(v)]}});
  PAL.forEach((c,k)=>series.push({type:'bar',xAxisIndex:gi,yAxisIndex:12+j,stack:'cb'+j,data:[1],barWidth:'100%',barCategoryGap:0,itemStyle:{color:c},silent:true}));
});
title.push({text:'LTS (K)',left:1062,top:6,padding:0,textStyle:{fontSize:16,fontWeight:'bold',fontFamily:FONT,color:'#000'}});
title.push({text:'LTS (K)',left:1070,top:341,padding:0,textStyle:{fontSize:16,fontWeight:'bold',fontFamily:FONT,color:'#000'}});

const chart = echarts.init(document.getElementById('c'),null,{renderer:'canvas'});
chart.setOption({
  animation:false,backgroundColor:'#fff',
  title, grid, xAxis, yAxis, series,
  legend:{top:8,left:374,itemGap:40,itemWidth:11,itemHeight:11,selectedMode:false,
    textStyle:{fontSize:20,fontWeight:'bold',fontFamily:FONT,color:'#000',padding:[0,0,0,18]},
    data:[{name:'CER',icon:'triangle',itemStyle:{color:'#000'}},
          {name:'CDNC (Winter Season)',icon:'circle',itemStyle:{color:'#222'}}]}
});
</script></body></html>
